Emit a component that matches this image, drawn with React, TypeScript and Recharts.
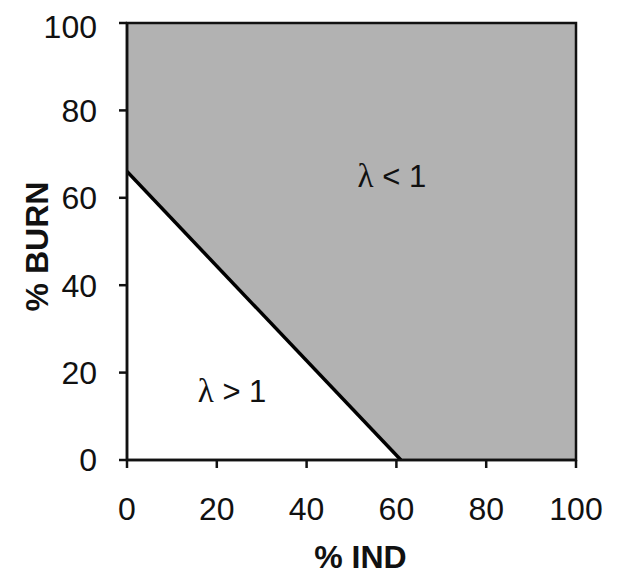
import React from 'react';
import { ComposedChart, XAxis, YAxis, Area, Line, ReferenceArea, ReferenceDot, Label } from 'recharts';

const boundaryInd = [0, 61];
const boundaryBurn = [66, 0];
const xTicks = [0, 20, 40, 60, 80, 100];
const yTicks = [0, 20, 40, 60, 80, 100];
const regionLabelX = [59, 23.4];
const regionLabelY = [65, 15.8];
const regionLabelOp = ['<', '>'];

const data = boundaryInd.map((x, i) => ({ x, y: boundaryBurn[i] }));
const regionLabels = regionLabelX.map((x, i) => ({ x, y: regionLabelY[i], op: regionLabelOp[i] }));

const FONT = '"Liberation Sans", Arial, sans-serif';

const lambdaLabel = (op: string) => (props: any) => {
  const vb = props.viewBox || {};
  const cx = (vb.x ?? 0) + (vb.width ?? 0) / 2;
  const cy = (vb.y ?? 0) + (vb.height ?? 0) / 2;
  return (
    <text x={cx} y={cy} textAnchor="middle" dominantBaseline="central" fontSize={31} fill="#111" fontFamily={FONT}>
      <tspan fontFamily='"Liberation Serif", "Times New Roman", serif' fontSize={33}>λ</tspan>
      <tspan>{` ${op} 1`}</tspan>
    </text>
  );
};

export default function App() {
  return (
    <ComposedChart
      width={611}
      height={567}
      data={data}
      margin={{ top: 15, right: 43, bottom: 55, left: 29 }}
      style={{ fontFamily: FONT }}
    >
      <XAxis
        dataKey="x"
        type="number"
        domain={[0, 100]}
        ticks={xTicks}
        allowDataOverflow
        tickSize={8}
        tickMargin={29}
        height={60}
        stroke="#111"
        strokeWidth={2.5}
        tick={{ fill: '#111', fontSize: 32, fontFamily: FONT }}
      >
        <Label value="% IND" position="insideBottom" offset={0} dx={9} dy={48} style={{ fontSize: 32, fontWeight: 'bold', fill: '#111', fontFamily: FONT }} />
      </XAxis>
      <YAxis
        type="number"
        domain={[0, 100]}
        ticks={yTicks}
        allowDataOverflow
        tickSize={8}
        tickMargin={22}
        width={90}
        stroke="#111"
        strokeWidth={2.5}
        tick={{ fill: '#111', fontSize: 32, fontFamily: FONT }}
      >
        <Label value="% BURN" angle={-90} position="insideLeft" offset={0} dx={0} dy={5} style={{ fontSize: 32, fontWeight: 'bold', fill: '#111', fontFamily: FONT, textAnchor: 'middle' }} />
      </YAxis>
      <ReferenceArea x1={0} x2={100} y1={0} y2={100} fill="#b2b2b2" fillOpacity={1} stroke="none" />
      <Area type="linear" dataKey="y" baseValue={0} fill="#ffffff" fillOpacity={1} stroke="none" isAnimationActive={false} />
      <Line type="linear" dataKey="y" stroke="#000" strokeWidth={3.5} dot={false} isAnimationActive={false} />
      <ReferenceArea x1={0} x2={100} y1={0} y2={100} fill="none" stroke="#111" strokeWidth={2.5} />
      {regionLabels.map((l, i) => (
        <ReferenceDot key={i} x={l.x} y={l.y} r={0} fill="none" stroke="none" label={lambdaLabel(l.op)} />
      ))}
    </ComposedChart>
  );
}
